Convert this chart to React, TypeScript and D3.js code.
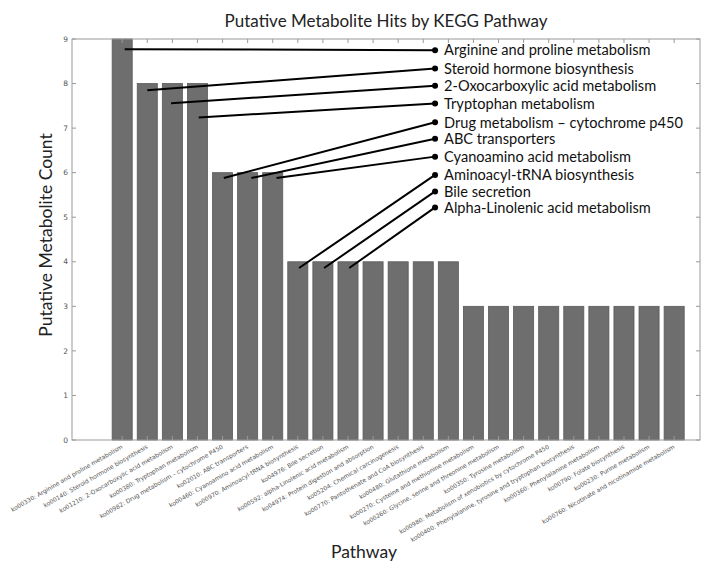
import React from "react";
import * as d3 from "d3";

const categories: string[] = [
  "ko00330: Arginine and proline metabolism",
  "ko00140: Steroid hormone biosynthesis",
  "ko01210: 2-Oxocarboxylic acid metabolism",
  "ko00380: Tryptophan metabolism",
  "ko00982: Drug metabolism \u2013 cytochrome P450",
  "ko02010: ABC transporters",
  "ko00460: Cyanoamino acid metabolism",
  "ko00970: Aminoacyl-tRNA biosynthesis",
  "ko04976: Bile secretion",
  "ko00592: alpha-Linolenic acid metabolism",
  "ko04974: Protein digestion and absorption",
  "ko05204: Chemical carcinogenesis",
  "ko00770: Pantothenate and CoA biosynthesis",
  "ko00480: Glutathione metabolism",
  "ko00270: Cysteine and methionine metabolism",
  "ko00260: Glycine, serine and threonine metabolism",
  "ko00350: Tyrosine metabolism",
  "ko00980: Metabolism of xenobiotics by cytochrome P450",
  "ko00400: Phenylalanine, tyrosine and tryptophan biosynthesis",
  "ko00360: Phenylalanine metabolism",
  "ko00790: Folate biosynthesis",
  "ko00230: Purine metabolism",
  "ko00760: Nicotinate and nicotinamide metabolism",
];

const counts: number[] = [9, 8, 8, 8, 6, 6, 6, 4, 4, 4, 4, 4, 4, 4, 3, 3, 3, 3, 3, 3, 3, 3, 3];

const yTicks: number[] = [0, 1, 2, 3, 4, 5, 6, 7, 8, 9];

// Annotations: label, point (data x, data y), label y (data units)
const annLabels: string[] = [
  "Arginine and proline metabolism",
  "Steroid hormone biosynthesis",
  "2-Oxocarboxylic acid metabolism",
  "Tryptophan metabolism",
  "Drug metabolism \u2013 cytochrome p450",
  "ABC transporters",
  "Cyanoamino acid metabolism",
  "Aminoacyl-tRNA biosynthesis",
  "Bile secretion",
  "Alpha-Linolenic acid metabolism",
];
const annPointX: number[] = [0.5, 1.4, 2.35, 3.45, 4.45, 5.55, 6.55, 7.45, 8.45, 9.45];
const annPointY: number[] = [8.77, 7.85, 7.56, 7.24, 5.88, 5.88, 5.88, 3.86, 3.86, 3.86];
const annTextY: number[] = [8.75, 8.34, 7.95, 7.55, 7.13, 6.76, 6.36, 5.95, 5.58, 5.22];
const annTextX = 12.87;

const W = 714;
const H = 575;
const left = 72;
const right = 700;
const top = 39;
const bottom = 440;
const barWidth = 0.8;

export default function App() {
  const x = d3.scaleLinear().domain([-1.6, 23.43]).range([left, right]);
  const y = d3.scaleLinear().domain([0, 9]).range([bottom, top]);
  const frame = "#9a9a9a";
  const labelFont = "Lato, 'Open Sans', sans-serif";
  const tickFont = "'DejaVu Sans', sans-serif";

  return (
    <svg
      width={W}
      height={H}
      style={{ position: "absolute", left: 0, top: 0, background: "#fff" }}
    >
      <rect x={0} y={0} width={W} height={H} fill="#fff" />
      <text
        x={386}
        y={27}
        textAnchor="middle"
        fontFamily={labelFont}
        fontSize={17}
        fill="#222"
      >
        Putative Metabolite Hits by KEGG Pathway
      </text>

      {/* bars */}
      {counts.map((c, i) => (
        <rect
          key={"b" + i}
          x={x(i)}
          y={y(c)}
          width={x(i + barWidth) - x(i)}
          height={y(0) - y(c)}
          fill="#6e6e6e"
          stroke="#5a5a5a"
          strokeWidth={0.8}
        />
      ))}

      {/* frame */}
      <rect
        x={left}
        y={top}
        width={right - left}
        height={bottom - top}
        fill="none"
        stroke={frame}
        strokeWidth={1}
      />

      {/* y ticks */}
      {yTicks.map((t) => (
        <g key={"y" + t}>
          <line x1={left} x2={left + 4} y1={y(t)} y2={y(t)} stroke={frame} />
          <line x1={right} x2={right - 4} y1={y(t)} y2={y(t)} stroke={frame} />
          <text
            x={left - 4}
            y={y(t)}
            dy="0.35em"
            textAnchor="end"
            fontFamily={tickFont}
            fontSize={7.5}
            fill="#555"
          >
            {t}
          </text>
        </g>
      ))}

      {/* x ticks */}
      {categories.map((c, i) => {
        const cx = x(i + barWidth / 2);
        return (
          <g key={"x" + i}>
            <line x1={cx} x2={cx} y1={top} y2={top + 4} stroke={frame} />
            <line x1={cx} x2={cx} y1={bottom} y2={bottom - 4} stroke={frame} />
            <text
              transform={`translate(${cx + 1},${bottom + 8}) rotate(-30)`}
              textAnchor="end"
              fontFamily={tickFont}
              fontSize={6}
              fill="#555"
            >
              {c}
            </text>
          </g>
        );
      })}

      {/* annotations */}
      {annLabels.map((lab, k) => (
        <g key={"a" + k}>
          <line
            x1={x(annPointX[k])}
            y1={y(annPointY[k])}
            x2={x(annTextX)}
            y2={y(annTextY[k])}
            stroke="#000"
            strokeWidth={2}
          />
          <circle cx={x(annTextX)} cy={y(annTextY[k])} r={3} fill="#000" />
          <text
            x={x(annTextX) + 9}
            y={y(annTextY[k]) + 1.5}
            dominantBaseline="middle"
            fontFamily={labelFont}
            fontSize={14.6}
            fill="#111"
          >
            {lab}
          </text>
        </g>
      ))}

      {/* axis labels */}
      <text
        transform={`translate(52,235) rotate(-90)`}
        textAnchor="middle"
        fontFamily={labelFont}
        fontSize={17.5}
        fill="#222"
      >
        Putative Metabolite Count
      </text>
      <text
        x={364}
        y={558}
        textAnchor="middle"
        fontFamily={labelFont}
        fontSize={17.5}
        fill="#222"
      >
        Pathway
      </text>
    </svg>
  );
}
